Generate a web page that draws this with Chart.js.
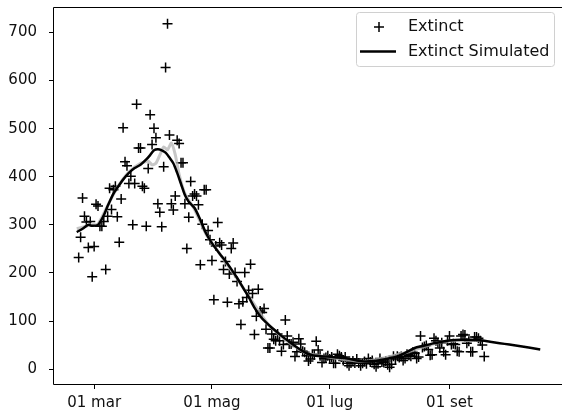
<!DOCTYPE html>
<html>
<head>
<meta charset="utf-8">
<script src="https://cdn.jsdelivr.net/npm/chart.js@4.4.1/dist/chart.umd.min.js"></script>
<style>
  body { margin: 0; background: #fff; }
  #wrap { width: 562px; height: 415px; position: relative; }
</style>
</head>
<body>
<div id="wrap"><canvas id="myChart"></canvas></div>
<script>
// days counted from 01 mar (day 0); observed series starts 21 feb
var extinctStart = -8;
var extinctFeb = [232,274,356,318,306,253,307,192];
var extinctMar = [255,343,339,297,297,307,207,318,376,332,373,380,317,264,354,502,431,423,386,401,300,386,551,460,460,380,376,297,417,529,467];
var extinctApr = [501,481,344,326,296,421,627,718,487,344,331,360,476,469,429,429,344,251,316,390,360,364,360,342,217,301,373,373,288,269];
var extinctMay = [226,144,256,305,263,258,207,224,139,198,251,262,201,182,136,93,140,201,149,164,218,157,72,110,166,121,118,126,83,44,44];
var extinctJun = [73,62,59,73,59,37,51,102,69,52,52,56,26,36,63,52,37,35,28,17,21,31,30,58,40,28,14,22,24,28];
var extinctJul = [21,25,12,12,31,28,25,18,25,12,7,13,17,13,21,13,7,12,16,11,22,15,18,10,5,11,22,15,14,17,9];
var extinctAug = [4,10,27,21,27,24,26,18,22,31,29,27,35,33,22,25,69,45,47,49,41,29,30,64,59,55,44,55,36,30,59];
var extinctSep = [69,51,53,51,37,36,69,72,71,54,58,36,36,67,67,64,59,50,26];

var simDays   = [-9,-6,-3,-1,2,5,7,10,12,15,18,21,24,27,29,31,33,35,37,39,41,43,45,47,49,52,55,58,61,65,68,71,74,77,80,83,86,89,92,95,98,101,104,107,110,113,117,121,126,131,136,140,145,150,155,158,162,166,170,175,180,185,190,195,200,205,210,215,220,225,231];
var simValues = [285,292,300,298,300,320,339,365,377,394,408,418,425,436,445,455,457,455,450,440,428,408,385,362,348,335,310,282,262,240,225,208,190,170,150,128,110,97,86,76,66,57,48,40,33,29,27,26,24,22,18,16,17,20,24,28,36,44,48,53,57,60,61,61,60,57,54,51,48,45,41];

var grayDays   = [-9,-5,-2,2,7,12,18,24,28,30,32,34,36,38,40,42,44,47,52,58,65,74,80,90,100,110,120,140,160,180,200];
var grayValues = [292,296,300,302,340,378,410,428,432,425,428,445,462,456,470,446,405,365,332,280,240,188,152,94,58,33,26,16,33,57,60];

var xTickDays = [0,61,122,184];
var xTickLabels = ['01 mar','01 mag','01 lug','01 set'];
var yTicks = [0,100,200,300,400,500,600,700];

var fontFam = "'DejaVu Sans', sans-serif";

function buildPoints(){
  var all = extinctFeb.concat(extinctMar, extinctApr, extinctMay, extinctJun, extinctJul, extinctAug, extinctSep);
  var pts = [];
  for (var i = 0; i < all.length; i++) {
    pts.push({x: extinctStart + i, y: all[i]});
  }
  return pts;
}

function pair(xs, ys){
  var out = [];
  for (var i = 0; i < xs.length; i++) out.push({x: xs[i], y: ys[i]});
  return out;
}

// frame round the plot + legend box in the top right corner
var framePlugin = {
  id: 'frame',
  afterDraw: function(chart){
    var c = chart.ctx, a = chart.chartArea;
    var l = Math.round(a.left) + 0.5, t = Math.round(a.top) + 0.5, b = Math.round(a.bottom) - 0.5;
    c.save();
    c.strokeStyle = '#000';
    c.lineWidth = 1;
    // right spine falls just outside the picture, like the reference
    c.beginPath();
    c.moveTo(chart.width, t); c.lineTo(l, t); c.lineTo(l, b); c.lineTo(chart.width, b);
    c.stroke();

    // legend
    var lx = 356.5, ly = 12.5, lw = 198, lh = 54, r = 3;
    c.beginPath();
    c.moveTo(lx + r, ly);
    c.arcTo(lx + lw, ly, lx + lw, ly + lh, r);
    c.arcTo(lx + lw, ly + lh, lx, ly + lh, r);
    c.arcTo(lx, ly + lh, lx, ly, r);
    c.arcTo(lx, ly, lx + lw, ly, r);
    c.closePath();
    c.fillStyle = 'rgba(255,255,255,0.8)';
    c.fill();
    c.lineWidth = 1;
    c.strokeStyle = '#d0d0d0';
    c.stroke();

    c.strokeStyle = '#000';
    c.lineWidth = 1.5;
    c.beginPath();
    c.moveTo(374, 27); c.lineTo(384, 27);
    c.moveTo(379, 22); c.lineTo(379, 32);
    c.stroke();
    c.lineWidth = 2.5;
    c.beginPath();
    c.moveTo(360, 51.5); c.lineTo(396, 51.5);
    c.stroke();

    c.fillStyle = '#111';
    c.font = '16px ' + fontFam;
    c.textBaseline = 'middle';
    c.textAlign = 'left';
    c.fillText(chart.data.datasets[2].label, 408, 27);
    c.fillText(chart.data.datasets[0].label, 408, 52);
    c.restore();
  }
};

var ctx = document.getElementById('myChart').getContext('2d');
new Chart(ctx, {
  type: 'scatter',
  data: {
    datasets: [
      {
        label: 'Extinct Simulated',
        data: pair(simDays, simValues),
        showLine: true,
        borderColor: '#000',
        borderWidth: 2.5,
        pointRadius: 0,
        tension: 0.3,
        order: 0
      },
      {
        label: 'smooth',
        data: pair(grayDays, grayValues),
        showLine: true,
        borderColor: 'rgba(180,180,180,0.75)',
        borderWidth: 3,
        pointRadius: 0,
        tension: 0.2,
        order: 1
      },
      {
        label: 'Extinct',
        data: buildPoints(),
        pointStyle: 'cross',
        pointRadius: 5,
        pointBorderWidth: 1.5,
        borderColor: '#000',
        backgroundColor: '#000',
        order: 2
      }
    ]
  },
  options: {
    responsive: true,
    maintainAspectRatio: false,
    animation: false,
    devicePixelRatio: 1,
    layout: { padding: { top: 3, right: 0, left: 0, bottom: 0 } },
    plugins: { legend: { display: false }, tooltip: { enabled: false } },
    scales: {
      x: {
        type: 'linear',
        min: -21.3,
        max: 238.9,
        afterFit: function(s){ s.height = 30; s.paddingLeft = 0; s.paddingRight = 0; },
        afterBuildTicks: function(s){ s.ticks = xTickDays.map(function(d){ return {value: d}; }); },
        ticks: {
          autoSkip: false,
          maxRotation: 0,
          padding: 5,
          color: '#111',
          font: { family: fontFam, size: 15 },
          callback: function(v){ return xTickLabels[xTickDays.indexOf(v)]; }
        },
        grid: { display: true, drawOnChartArea: false, drawTicks: true, tickLength: 4, color: '#000' },
        border: { display: false }
      },
      y: {
        type: 'linear',
        min: -33,
        max: 754,
        afterFit: function(s){ s.width = 53; s.paddingTop = 0; s.paddingBottom = 0; },
        afterBuildTicks: function(s){ s.ticks = yTicks.map(function(v){ return {value: v}; }); },
        ticks: {
          autoSkip: false,
          padding: 12,
          color: '#111',
          font: { family: fontFam, size: 15 }
        },
        grid: { display: true, drawOnChartArea: false, drawTicks: true, tickLength: 4, color: '#000' },
        border: { display: false }
      }
    }
  },
  plugins: [framePlugin]
});
</script>
</body>
</html>
